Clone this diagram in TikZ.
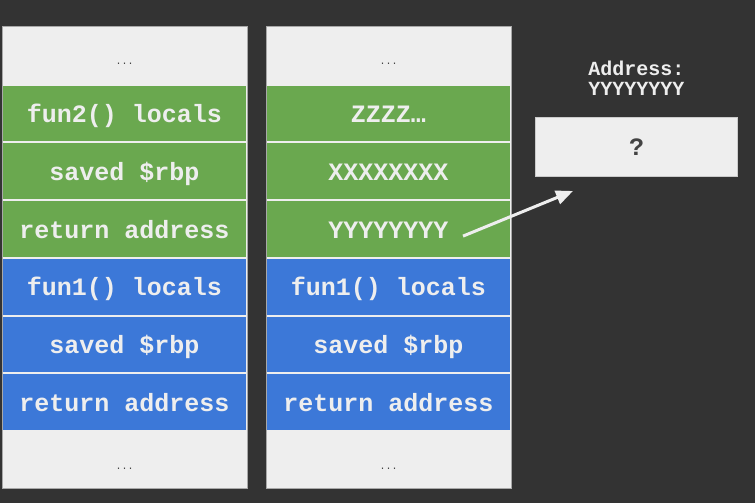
\documentclass[tikz,border=0pt]{standalone}
\usepackage{fontspec}
\setmonofont{Liberation Mono}
\usetikzlibrary{positioning,arrows.meta}
\definecolor{bgdark}{HTML}{333333}
\definecolor{cellgray}{HTML}{EEEEEE}
\definecolor{framegray}{HTML}{A8A8A8}
\definecolor{stackgreen}{HTML}{6AA84F}
\definecolor{stackblue}{HTML}{3C78D8}
\definecolor{inkdark}{HTML}{434343}

\begin{document}
\begin{tikzpicture}[x=1pt,y=1pt,
  cell/.style={minimum width=244pt,minimum height=56.75pt,inner sep=0pt,
    line width=1pt,draw=cellgray,text height=18pt,text depth=0pt,
    text=cellgray,font=\ttfamily\bfseries\fontsize{25}{30}\selectfont},
  plaincell/.style={cell,fill=cellgray,text=inkdark,
    font=\ttfamily\fontsize{10}{12}\selectfont},
  greencell/.style={cell,fill=stackgreen},
  bluecell/.style={cell,fill=stackblue},
  frame/.style={draw=framegray,line width=1pt}]
\fill[bgdark] (0,0) rectangle (755,503);
\useasboundingbox (0,0) rectangle (755,503);

% stack before the call
\node[plaincell] (ltop) at (124.5,447.125) {...};
\node[greencell,below=0pt of ltop] (l1) {fun2() locals};
\node[greencell,below=0pt of l1] (l2) {saved \$rbp};
\node[greencell,below=0pt of l2] (l3) {return address};
\node[bluecell,below=0pt of l3] (l4) {fun1() locals};
\node[bluecell,below=0pt of l4] (l5) {saved \$rbp};
\node[bluecell,below=0pt of l5] (l6) {return address};
\node[plaincell,below=0pt of l6] (lbot) {...};
\draw[frame] (ltop.north west) rectangle (lbot.south east);

% stack after the overflow
\node[plaincell] (rtop) at (388.5,447.125) {...};
\node[greencell,below=0pt of rtop] (r1) {ZZZZ…};
\node[greencell,below=0pt of r1] (r2) {XXXXXXXX};
\node[greencell,below=0pt of r2] (r3) {YYYYYYYY};
\node[bluecell,below=0pt of r3] (r4) {fun1() locals};
\node[bluecell,below=0pt of r4] (r5) {saved \$rbp};
\node[bluecell,below=0pt of r5] (r6) {return address};
\node[plaincell,below=0pt of r6] (rbot) {...};
\draw[frame] (rtop.north west) rectangle (rbot.south east);

\node[align=center,anchor=north,inner sep=0pt,text=cellgray,
  font=\ttfamily\bfseries\fontsize{20}{20}\selectfont] (addr) at (636.5,442) {Address:\\YYYYYYYY};
\node[cell,minimum width=202pt,minimum height=59pt,fill=cellgray,draw=framegray!60,
  text=inkdark] (q) at (636.5,356) {?};

\coordinate (src) at ([xshift=-48pt,yshift=-7pt]r3.east);
\coordinate (dst) at ([xshift=38pt,yshift=-14pt]q.south west);
\draw[cellgray,line width=3pt,-{Triangle[length=17pt,width=14pt]}] (src) -- (dst);
\end{tikzpicture}
\end{document}
